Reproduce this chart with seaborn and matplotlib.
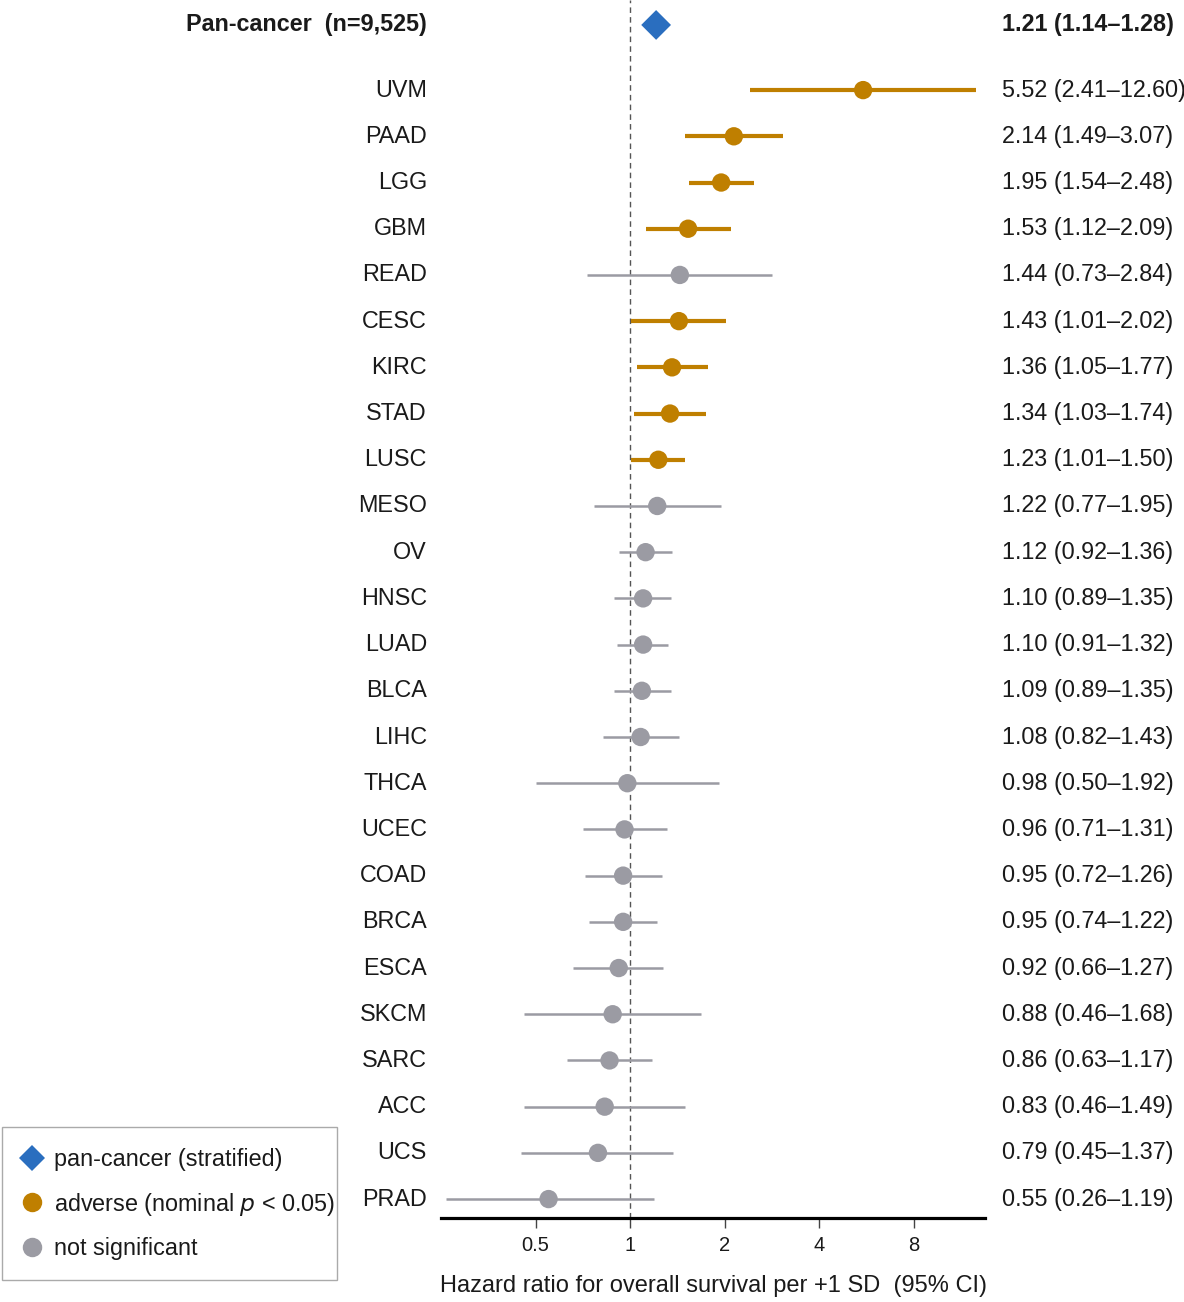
import numpy as np
import pandas as pd
import matplotlib
matplotlib.use("Agg")
import matplotlib.pyplot as plt
from matplotlib.lines import Line2D
from matplotlib.patches import Rectangle
from matplotlib.ticker import FixedLocator, FixedFormatter
import seaborn as sns

# per-cancer hazard ratios (95% CI)
cancers = ["UVM", "PAAD", "LGG", "GBM", "READ", "CESC", "KIRC", "STAD", "LUSC", "MESO",
           "OV", "HNSC", "LUAD", "BLCA", "LIHC", "THCA", "UCEC", "COAD", "BRCA", "ESCA",
           "SKCM", "SARC", "ACC", "UCS", "PRAD"]
hr = [5.52, 2.14, 1.95, 1.53, 1.44, 1.43, 1.36, 1.34, 1.23, 1.22,
      1.12, 1.10, 1.10, 1.09, 1.08, 0.98, 0.96, 0.95, 0.95, 0.92,
      0.88, 0.86, 0.83, 0.79, 0.55]
ci_lo = [2.41, 1.49, 1.54, 1.12, 0.73, 1.01, 1.05, 1.03, 1.01, 0.77,
         0.92, 0.89, 0.91, 0.89, 0.82, 0.50, 0.71, 0.72, 0.74, 0.66,
         0.46, 0.63, 0.46, 0.45, 0.26]
ci_hi = [12.60, 3.07, 2.48, 2.09, 2.84, 2.02, 1.77, 1.74, 1.50, 1.95,
         1.36, 1.35, 1.32, 1.35, 1.43, 1.92, 1.31, 1.26, 1.22, 1.27,
         1.68, 1.17, 1.49, 1.37, 1.19]

# pooled estimate
pan_label = "Pan-cancer  (n=9,525)"
pan_hr, pan_lo, pan_hi = 1.21, 1.14, 1.28

xticks = [0.5, 1, 2, 4, 8]
xtick_labels = ["0.5", "1", "2", "4", "8"]

ORANGE = "#bf7f00"
GREY = "#9b9ba3"
BLUE = "#2a6ebf"
TXT = "#1a1a1a"
FS = 16.8

df = pd.DataFrame({"cancer": cancers, "hr": hr, "lo": ci_lo, "hi": ci_hi})
df["y"] = np.arange(len(df))
df["group"] = np.where(df["lo"] > 1, "adverse", "ns")
pan_y = -1.41

sns.set_theme(style="white")
plt.rcParams["font.family"] = ["Liberation Sans", "DejaVu Sans"]

fig = plt.figure(figsize=(11.84, 13.02), dpi=100)
ax = fig.add_axes([0.3725, 0.0645, 0.4595, 0.9355])

ax.axvline(1, color="#555555", lw=1.0, ls=(0, (4, 3)), zorder=0)

# confidence intervals
for grp, col, lw in [("ns", GREY, 1.8), ("adverse", ORANGE, 3.0)]:
    sub = df[df["group"] == grp]
    ax.hlines(sub["y"], sub["lo"], sub["hi"], color=col, lw=lw, zorder=1)

sns.scatterplot(data=df, x="hr", y="y", hue="group",
                palette={"adverse": ORANGE, "ns": GREY},
                s=175, edgecolor="none", legend=False, ax=ax, zorder=2)
ax.scatter([pan_hr], [pan_y], marker="D", s=230, color=BLUE, edgecolor="none", zorder=3)

ax.set_xscale("log", base=2)
ax.set_xlim(0.25, 13.5)
ax.set_ylim(24.41, -1.95)
ax.xaxis.set_major_locator(FixedLocator(xticks))
ax.xaxis.set_major_formatter(FixedFormatter(xtick_labels))
ax.xaxis.set_minor_locator(FixedLocator([]))
ax.set_yticks([])
ax.tick_params(axis="x", bottom=True, length=7, width=1, color="#444444",
               labelsize=14.5, labelcolor=TXT, pad=6)
for s in ["top", "right", "left"]:
    ax.spines[s].set_visible(False)
ax.spines["bottom"].set_linewidth(2.3)
ax.spines["bottom"].set_color("black")
ax.set_xlabel("Hazard ratio for overall survival per +1 SD  (95% CI)",
              fontsize=17, color=TXT, labelpad=14)
ax.set_ylabel("")

# row labels and estimate text
trans = ax.get_yaxis_transform()
for _, r in df.iterrows():
    ax.text(-0.026, r["y"], r["cancer"], transform=trans, ha="right", va="center",
            fontsize=FS, color=TXT)
    ax.text(1.031, r["y"], f"{r['hr']:.2f} ({r['lo']:.2f}\u2013{r['hi']:.2f})",
            transform=trans, ha="left", va="center", fontsize=FS, color=TXT)
ax.text(-0.026, pan_y, pan_label, transform=trans, ha="right", va="center",
        fontsize=FS, fontweight="bold", color=TXT)
ax.text(1.031, pan_y, f"{pan_hr:.2f} ({pan_lo:.2f}\u2013{pan_hi:.2f})",
        transform=trans, ha="left", va="center", fontsize=FS, fontweight="bold", color=TXT)

# legend (frame drawn separately so it hugs the text like the original)
handles = [
    Line2D([], [], marker="D", ls="none", color=BLUE, markersize=13, markeredgewidth=0),
    Line2D([], [], marker="o", ls="none", color=ORANGE, markersize=14, markeredgewidth=0),
    Line2D([], [], marker="o", ls="none", color=GREY, markersize=14, markeredgewidth=0),
]
labels = ["pan-cancer (stratified)", "adverse (nominal $p$ < 0.05)", "not significant"]
leg = fig.legend(handles, labels, loc="lower left", bbox_to_anchor=(0.002, 0.019),
                 frameon=False, fontsize=FS, handletextpad=0.45,
                 borderpad=0.75, labelspacing=0.82, borderaxespad=0, handlelength=1.0)
for t in leg.get_texts():
    t.set_color(TXT)
fig.patches.append(Rectangle((0.0017, 0.0169), 0.283, 0.1175, transform=fig.transFigure,
                             fill=False, edgecolor="#aaaaaa", lw=1.0))

fig.savefig("out.png", dpi=100)
